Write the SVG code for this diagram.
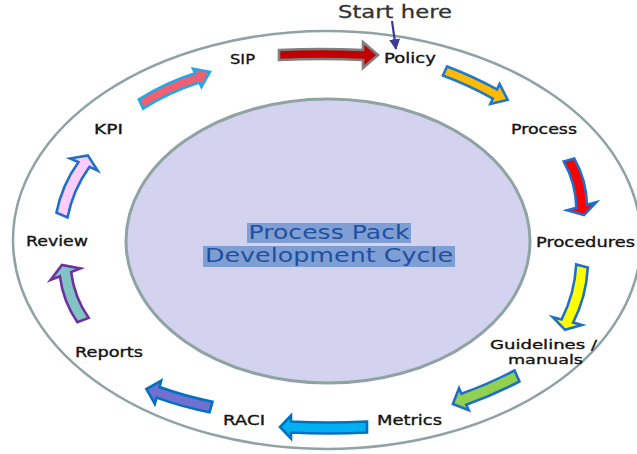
<svg xmlns="http://www.w3.org/2000/svg" width="637" height="454" viewBox="0 0 637 454">
<defs>
<style>
.lbl{font-family:"DejaVu Sans","Liberation Sans",sans-serif;font-size:14px;fill:#141414;stroke:#141414;stroke-width:0.35px;}
.sm{font-size:13px;}
.ctr{font-family:"DejaVu Sans","Liberation Sans",sans-serif;font-size:19px;fill:#1f4f9f;text-anchor:middle;}
.ring{fill:none;stroke:#8fa3a3;}
.arw{stroke-width:2.6;stroke-linejoin:miter;}
</style>
<marker id="head" viewBox="0 0 10 10" refX="9" refY="5" markerWidth="5" markerHeight="5" orient="auto" markerUnits="strokeWidth">
<path d="M0,0 L10,5 L0,10 Z" fill="#3b3b9b"/>
</marker>
</defs>
<rect width="637" height="454" fill="#ffffff"/>
<g id="outer-ring">
<ellipse class="ring" cx="327" cy="240" rx="314" ry="209" stroke-width="2.5"/>
</g>
<g id="center">
<ellipse cx="328" cy="241" rx="202" ry="142" fill="#d3d3f0" stroke="#8fa3a3" stroke-width="3"/>
<rect x="247" y="223" width="164" height="20" fill="#7f9fd4"/>
<rect x="203" y="246" width="252" height="21" fill="#7f9fd4"/>
<text class="ctr" x="329" y="239" textLength="161" lengthAdjust="spacingAndGlyphs">Process Pack</text>
<text class="ctr" x="329" y="262" textLength="248" lengthAdjust="spacingAndGlyphs">Development Cycle</text>
</g>
<g id="connectors">
<path class="arw" fill="#c00000" stroke="#7f7f7f" transform="translate(279,55)" d="M0,-5 Q42,-7 84,-5 L84,-13 L99,0 L84,13 L84,5 Q42,3 0,5 Z"/>
<path class="arw" fill="#ffbb00" stroke="#1f78cc" transform="translate(445,71) rotate(24.7)" d="M0,-5 Q27.5,-7 55,-5 L55,-11 L69,0 L55,11 L55,5 Q27.5,3 0,5 Z"/>
<path class="arw" fill="#ff0000" stroke="#1f6fc8" transform="translate(569,160) rotate(74.7)" d="M0,-5.5 Q24,-11.5 48,-5.5 L48,-15 L57,0 L48,15 L48,5.5 Q24,-0.5 0,5.5 Z"/>
<path class="arw" fill="#ffff00" stroke="#1f6fc8" transform="translate(582,266) rotate(104.9)" d="M0,-6 Q28.5,-12 57,-6 L57,-15 L66,0 L57,15 L57,6 Q28.5,0 0,6 Z"/>
<path class="arw" fill="#92d050" stroke="#1f6fc8" transform="translate(517,376) rotate(156.4)" d="M0,-6 Q29,-8 58,-6 L58,-12 L70,0 L58,12 L58,6 Q29,4 0,6 Z"/>
<path class="arw" fill="#00b0f0" stroke="#0070c0" transform="translate(367,427) rotate(180)" d="M0,-5.5 Q38,-7.5 76,-5.5 L76,-11.5 L87,0 L76,11.5 L76,5.5 Q38,3.5 0,5.5 Z"/>
<path class="arw" fill="#7070d0" stroke="#0070c0" transform="translate(211,407) rotate(195.5)" d="M0,-5.5 Q27.5,-7.5 55,-5.5 L55,-12 L67,0 L55,12 L55,5.5 Q27.5,3.5 0,5.5 Z"/>
<path class="arw" fill="#80c4c4" stroke="#7030a0" transform="translate(83,320) rotate(249.1)" d="M0,-6 Q24.5,-12 49,-6 L49,-16 L59,0 L49,16 L49,6 Q24.5,0 0,6 Z"/>
<path class="arw" fill="#ffccff" stroke="#1f6fc8" transform="translate(62,215) rotate(-66.6)" d="M0,-6 Q27.5,-12 55,-6 L55,-15 L65,0 L55,15 L55,6 Q27.5,0 0,6 Z"/>
<path class="arw" fill="#f06070" stroke="#20a8e8" transform="translate(141,104) rotate(-24.9)" d="M0,-5 Q31,-9 62,-5 L62,-10 L76,0 L62,10 L62,5 Q31,1 0,5 Z"/>
<line x1="392" y1="21" x2="396" y2="49" stroke="#3b3b9b" stroke-width="2.2" marker-end="url(#head)"/>
</g>
<g id="start-here"><text class="lbl" x="338" y="18" style="font-size:18px;fill:#333333;stroke:#333333;stroke-width:0.3px" textLength="114" lengthAdjust="spacingAndGlyphs">Start here</text></g>
<g id="sip"><text class="lbl" x="230" y="64" textLength="25" lengthAdjust="spacingAndGlyphs">SIP</text></g>
<g id="policy"><text class="lbl" x="384" y="63" textLength="52" lengthAdjust="spacingAndGlyphs">Policy</text></g>
<g id="process"><text class="lbl" x="511" y="134" textLength="66" lengthAdjust="spacingAndGlyphs">Process</text></g>
<g id="procedures"><text class="lbl" x="536" y="247" textLength="99" lengthAdjust="spacingAndGlyphs">Procedures</text></g>
<g id="guidelines"><text class="lbl sm" x="490" y="349" textLength="107" lengthAdjust="spacingAndGlyphs">Guidelines /</text><text class="lbl sm" x="508" y="364" textLength="75" lengthAdjust="spacingAndGlyphs">manuals</text></g>
<g id="metrics"><text class="lbl" x="377" y="425" textLength="65" lengthAdjust="spacingAndGlyphs">Metrics</text></g>
<g id="raci"><text class="lbl" x="223" y="425" textLength="42" lengthAdjust="spacingAndGlyphs">RACI</text></g>
<g id="reports"><text class="lbl" x="75" y="357" textLength="68" lengthAdjust="spacingAndGlyphs">Reports</text></g>
<g id="review"><text class="lbl" x="26" y="246" textLength="62" lengthAdjust="spacingAndGlyphs">Review</text></g>
<g id="kpi"><text class="lbl" x="94" y="134" textLength="29" lengthAdjust="spacingAndGlyphs">KPI</text></g>
</svg>
